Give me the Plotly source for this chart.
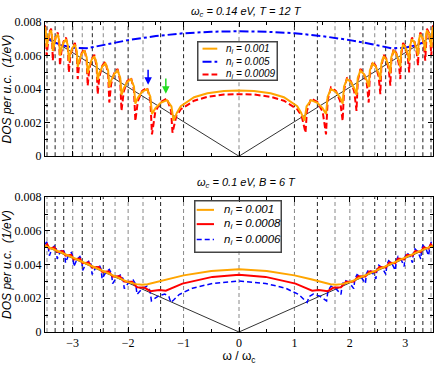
import plotly.graph_objects as go

# Landau level positions (omega / omega_c) for the dashed guide lines
LL = [0, 1.0, 1.414, 1.732, 2.0, 2.236, 2.449, 2.646, 2.828, 3.0, 3.162, 3.317, 3.464]
LL_COL_TOP = ["#888", "#222", "#222", "#888", "#222", "#222", "#888", "#222", "#888", "#222", "#888", "#222", "#222"]
LL_COL_BOT = ["#888", "#888", "#222", "#888", "#888", "#888", "#222", "#888", "#222", "#888", "#222", "#222", "#888"]

top_v_x = [-3.5, 0, 3.5]
top_v_y = [0.0072, 0, 0.0072]

top_x_orange = [0, 0.27, 0.57, 0.81, 1.05, 1.12, 1.18,
                1.219, 1.30, 1.414, 1.51, 1.57,
                1.60, 1.66, 1.75, 1.825, 1.87,
                1.895, 1.95, 2.02, 2.08, 2.12,
                2.142, 2.19, 2.252, 2.307, 2.34,
                2.361, 2.41, 2.466, 2.519, 2.55,
                2.568, 2.61, 2.658, 2.703, 2.73,
                2.748, 2.79, 2.838, 2.883, 2.91,
                2.926, 2.96, 3.006, 3.046, 3.07,
                3.086, 3.12, 3.166, 3.206, 3.23,
                3.243, 3.27, 3.308, 3.34, 3.36,
                3.371, 3.39, 3.426, 3.454, 3.47,
                3.48, 3.5]
top_y_orange = [0.00392, 0.00389, 0.00375, 0.00352, 0.00298, 0.0026, 0.00212,
                0.00297, 0.00334, 0.00318, 0.00285, 0.00252,
                0.00356, 0.0040, 0.00383, 0.00348, 0.00313,
                0.00416, 0.0046, 0.00441, 0.00404, 0.00366,
                0.00467, 0.0051, 0.0049, 0.00451, 0.00412,
                0.00511, 0.00554, 0.00534, 0.00495, 0.00455,
                0.00553, 0.00595, 0.00575, 0.00534, 0.00494,
                0.0059, 0.0063, 0.0061, 0.00571, 0.00532,
                0.00625, 0.00665, 0.00645, 0.00606, 0.00566,
                0.00658, 0.00697, 0.00678, 0.00639, 0.006,
                0.00689, 0.00727, 0.00707, 0.00668, 0.00628,
                0.00713, 0.0075, 0.0073, 0.0069, 0.0065,
                0.0073, 0.0077]

top_x_red = [0, 0.27, 0.57, 0.81, 1.05, 1.13, 1.20,
             1.225, 1.30, 1.414, 1.51, 1.57,
             1.60, 1.66, 1.75, 1.825, 1.87,
             1.895, 1.95, 2.02, 2.08, 2.12,
             2.142, 2.19, 2.252, 2.307, 2.34,
             2.361, 2.41, 2.466, 2.519, 2.55,
             2.568, 2.61, 2.658, 2.703, 2.73,
             2.748, 2.79, 2.838, 2.883, 2.91,
             2.926, 2.96, 3.006, 3.046, 3.07,
             3.086, 3.12, 3.166, 3.206, 3.23,
             3.243, 3.27, 3.308, 3.34, 3.36,
             3.371, 3.39, 3.426, 3.454, 3.47,
             3.48, 3.5]
top_y_red = [0.0037, 0.00368, 0.00354, 0.00331, 0.0028, 0.0024, 0.0014,
             0.0027, 0.00344, 0.00323, 0.00265, 0.0013,
             0.00336, 0.0041, 0.00388, 0.00328, 0.0021,
             0.00396, 0.0047, 0.00446, 0.00384, 0.0027,
             0.00447, 0.0052, 0.00495, 0.00431, 0.0032,
             0.00491, 0.00564, 0.00539, 0.00475, 0.0037,
             0.00533, 0.00605, 0.0058, 0.00514, 0.0042,
             0.0057, 0.0064, 0.00615, 0.00551, 0.0046,
             0.00605, 0.00675, 0.0065, 0.00586, 0.0050,
             0.00638, 0.00707, 0.00683, 0.00619, 0.0054,
             0.00669, 0.00737, 0.00712, 0.00648, 0.0057,
             0.00693, 0.0076, 0.00735, 0.0067, 0.0060,
             0.0071, 0.0078]

top_x_blue = [0, 0.5, 1.0, 1.5, 2.0, 2.4, 2.75, 3.0, 3.2, 3.35, 3.5]
top_y_blue = [0.00745, 0.00742, 0.00733, 0.00716, 0.00692, 0.00668, 0.00643, 0.00647, 0.00662, 0.00681, 0.0071]

# ---- bottom panel (wc = 0.1 eV) ----
bot_v_x = [-3.5, 0, 3.5]
bot_v_y = [0.0051, 0, 0.0051]

bot_x_orange = [0, 0.5, 1.0, 1.3, 1.5, 1.65, 1.75, 1.85, 2.0, 2.25, 2.5, 2.75, 3.0, 3.25, 3.5]
bot_y_orange = [0.00372, 0.00362, 0.00336, 0.00313, 0.00295, 0.00283, 0.0028, 0.00284,
                0.00296, 0.00333, 0.00369, 0.00405, 0.00442, 0.00478, 0.00512]

bot_x_red = [0, 0.48, 1.02, 1.2, 1.32, 1.44, 1.52, 1.60, 1.70, 1.84, 1.93, 2.07, 2.15, 2.28, 2.35,
             2.47, 2.53, 2.65, 2.71, 2.82, 2.87, 2.98, 3.03, 3.13, 3.18, 3.28, 3.33, 3.42, 3.46, 3.5]
bot_y_red = [0.0034, 0.00327, 0.00287, 0.00262, 0.00245, 0.00249, 0.00246, 0.00242, 0.00262, 0.00265,
             0.00298, 0.00299, 0.0033, 0.00329, 0.00359, 0.00357, 0.00386, 0.00383, 0.00412, 0.00408,
             0.00435, 0.00431, 0.00458, 0.00453, 0.0048, 0.00475, 0.00502, 0.00495, 0.0052, 0.00505]

bot_x_blue = [0, 0.48, 0.84, 1.08, 1.18, 1.23,
              1.265, 1.34, 1.457, 1.58,
              1.606, 1.66, 1.749, 1.84,
              1.863, 1.91, 1.99, 2.07,
              2.091, 2.13, 2.207, 2.28,
              2.299, 2.34, 2.404, 2.47,
              2.488, 2.52, 2.587, 2.65,
              2.667, 2.70, 2.76, 2.82,
              2.836, 2.87, 2.924, 2.98,
              2.995, 3.025, 3.078, 3.13,
              3.145, 3.175, 3.228, 3.28,
              3.294, 3.32, 3.371, 3.42,
              3.445, 3.47, 3.5]
bot_y_blue = [0.00303, 0.00288, 0.0026, 0.00222, 0.0019, 0.00175,
              0.0021, 0.00225, 0.00213, 0.00185,
              0.00246, 0.00272, 0.00257, 0.00223,
              0.00283, 0.00308, 0.00293, 0.00257,
              0.00315, 0.0034, 0.00324, 0.00287,
              0.00346, 0.00371, 0.00354, 0.00315,
              0.00372, 0.00397, 0.0038, 0.00341,
              0.00398, 0.00423, 0.00406, 0.00366,
              0.00423, 0.00448, 0.0043, 0.00389,
              0.00446, 0.00471, 0.00453, 0.00411,
              0.00468, 0.00493, 0.00475, 0.00433,
              0.0049, 0.00514, 0.00496, 0.00453,
              0.0051, 0.00535, 0.0052]

# legend labels
top_labels = ["0.001", "0.005", "0.0009"]
bot_labels = ["0.001", "0.0008", "0.0006"]


def mirror(xs, ys):
    # curves are even in omega: reflect the positive half
    fx = [-v for v in reversed(xs)] + list(xs[1:])
    fy = list(reversed(ys)) + list(ys[1:])
    return fx, fy


def ni(val):
    return "<i>n</i><sub><i>i</i></sub><i> = " + val + "</i>"


SANS = "Liberation Sans"
SERIF = "Liberation Serif"
ORANGE, BLUE, RED, GREEN = "#ffa500", "#0000ff", "#ff0000", "#22dd22"

top_styles = [(ORANGE, "solid", 2), (BLUE, "dashdot", 2), (RED, "6px,3px", 2)]
bot_styles = [(ORANGE, "solid", 2), (RED, "solid", 2), (BLUE, "5px,3px", 1.5)]

fig = go.Figure()

# top panel
fig.add_trace(go.Scatter(x=top_v_x, y=top_v_y, mode="lines", line=dict(color="#333", width=1),
                         showlegend=False, xaxis="x2", yaxis="y2"))
for (xh, yh), (c, d, w) in zip([(top_x_blue, top_y_blue), (top_x_red, top_y_red), (top_x_orange, top_y_orange)],
                               [top_styles[1], top_styles[2], top_styles[0]]):
    x, y = mirror(xh, yh)
    fig.add_trace(go.Scatter(x=x, y=y, mode="lines", line=dict(color=c, width=w, dash=d),
                             showlegend=False, xaxis="x2", yaxis="y2"))

# bottom panel
fig.add_trace(go.Scatter(x=bot_v_x, y=bot_v_y, mode="lines", line=dict(color="#333", width=1),
                         showlegend=False))
for (xh, yh), (c, d, w) in zip([(bot_x_blue, bot_y_blue), (bot_x_red, bot_y_red), (bot_x_orange, bot_y_orange)],
                               [bot_styles[2], bot_styles[1], bot_styles[0]]):
    x, y = mirror(xh, yh)
    fig.add_trace(go.Scatter(x=x, y=y, mode="lines", line=dict(color=c, width=w, dash=d),
                             showlegend=False))

# dashed level lines; the centre one is interrupted by the legend box
shapes = []
for xs, ax, cols, gap in [("x2", "y2 domain", LL_COL_TOP, (0.573, 0.859)),
                          ("x", "y domain", LL_COL_BOT, (0.598, 0.976))]:
    for e, c in zip(LL, cols):
        segs = [(0, gap[0]), (gap[1], 1)] if e == 0 else [(0, 1)]
        for s in ([e] if e == 0 else [-e, e]):
            for a, b in segs:
                shapes.append(dict(type="line", xref=xs, yref=ax, x0=s, x1=s, y0=a, y1=b,
                                   line=dict(color=c, width=1, dash="4px,3px"), layer="below"))

annotations = [
    dict(text="<i>ω<sub>c</sub> = 0.14 eV, T = 12 T</i>", xref="paper", yref="paper", x=0.52, y=1.062,
         showarrow=False, font=dict(family=SANS, size=11, color="black")),
    dict(text="<i>ω<sub>c</sub> = 0.1 eV, B = 6 T</i>", xref="paper", yref="paper", x=0.52, y=0.481,
         showarrow=False, font=dict(family=SANS, size=11, color="black")),
    dict(text="", xref="x2", yref="y2", x=-1.64, y=0.00426, axref="x2", ayref="y2",
         ax=-1.64, ay=0.00525, showarrow=True, arrowhead=2, arrowsize=1, arrowwidth=1.5, arrowcolor=BLUE),
    dict(text="", xref="x2", yref="y2", x=-1.32, y=0.00373, axref="x2", ayref="y2",
         ax=-1.32, ay=0.00472, showarrow=True, arrowhead=2, arrowsize=1, arrowwidth=1.5, arrowcolor=GREEN),
]

# boxed legends (paper coordinates, box size in px)
legends = [
    dict(corner=(0.393, 0.939), px=(78, 37), rows=[0.914, 0.872, 0.831], line=(0.406, 0.444),
         tx=0.462, size=10, labels=top_labels, styles=top_styles),
    dict(corner=(0.383, 0.4245), px=(85, 50), rows=[0.394, 0.348, 0.298], line=(0.391, 0.4355),
         tx=0.455, size=11.5, labels=bot_labels, styles=bot_styles),
]
for lg in legends:
    annotations.append(dict(text=" ", xref="paper", yref="paper", x=lg["corner"][0], y=lg["corner"][1],
                            xanchor="left", yanchor="top", width=lg["px"][0], height=lg["px"][1],
                            borderpad=0, borderwidth=1.5, bordercolor="#444", bgcolor="rgba(0,0,0,0)",
                            showarrow=False))
    for yr, lab, (c, d, w) in zip(lg["rows"], lg["labels"], lg["styles"]):
        shapes.append(dict(type="line", xref="paper", yref="paper", x0=lg["line"][0], x1=lg["line"][1],
                           y0=yr, y1=yr, line=dict(color=c, width=w, dash=d), layer="above"))
        annotations.append(dict(text=ni(lab), xref="paper", yref="paper", x=lg["tx"], y=yr,
                                xanchor="left", yanchor="middle", showarrow=False,
                                font=dict(family=SANS, size=lg["size"], color="black")))

axis_common = dict(range=[-3.5, 3.5], ticks="inside", ticklen=5, tickcolor="black",
                   showline=True, linecolor="black", linewidth=1, mirror="ticks",
                   showgrid=False, zeroline=False, tickvals=[-3, -2, -1, 0, 1, 2, 3],
                   minor=dict(ticks="inside", ticklen=3, dtick=0.5, tickcolor="black", showgrid=False),
                   tickfont=dict(family=SERIF, size=12, color="black"))
yaxis_common = dict(range=[0, 0.008], dtick=0.002, ticks="inside", ticklen=5, tickcolor="black",
                    showline=True, linecolor="black", linewidth=1, mirror="ticks",
                    showgrid=False, zeroline=False,
                    minor=dict(ticks="inside", ticklen=3, dtick=0.001, tickcolor="black", showgrid=False),
                    tickfont=dict(family=SERIF, size=12, color="black"),
                    title=dict(text="<i>DOS per u.c.  (1/eV)</i>", font=dict(family=SANS, size=12, color="black"),
                               standoff=4))

fig.update_layout(
    width=436, height=365,
    margin=dict(l=43, r=2, t=22, b=29),
    paper_bgcolor="white", plot_bgcolor="white",
    showlegend=False,
    xaxis=dict(axis_common, anchor="y", domain=[0, 1],
               title=dict(text="ω / ω<sub>c</sub>", font=dict(family=SANS, size=12, color="black"), standoff=4)),
    yaxis=dict(yaxis_common, anchor="x", domain=[0, 0.435]),
    xaxis2=dict(axis_common, anchor="y2", domain=[0, 1], showticklabels=False),
    yaxis2=dict(yaxis_common, anchor="x2", domain=[0.567, 1]),
    shapes=shapes,
    annotations=annotations,
)

# drop the default page margin so the figure sits at the window's top-left corner
fig.write_html("out.html", config={"displayModeBar": False},
               post_script="document.body.style.margin='0px';")
